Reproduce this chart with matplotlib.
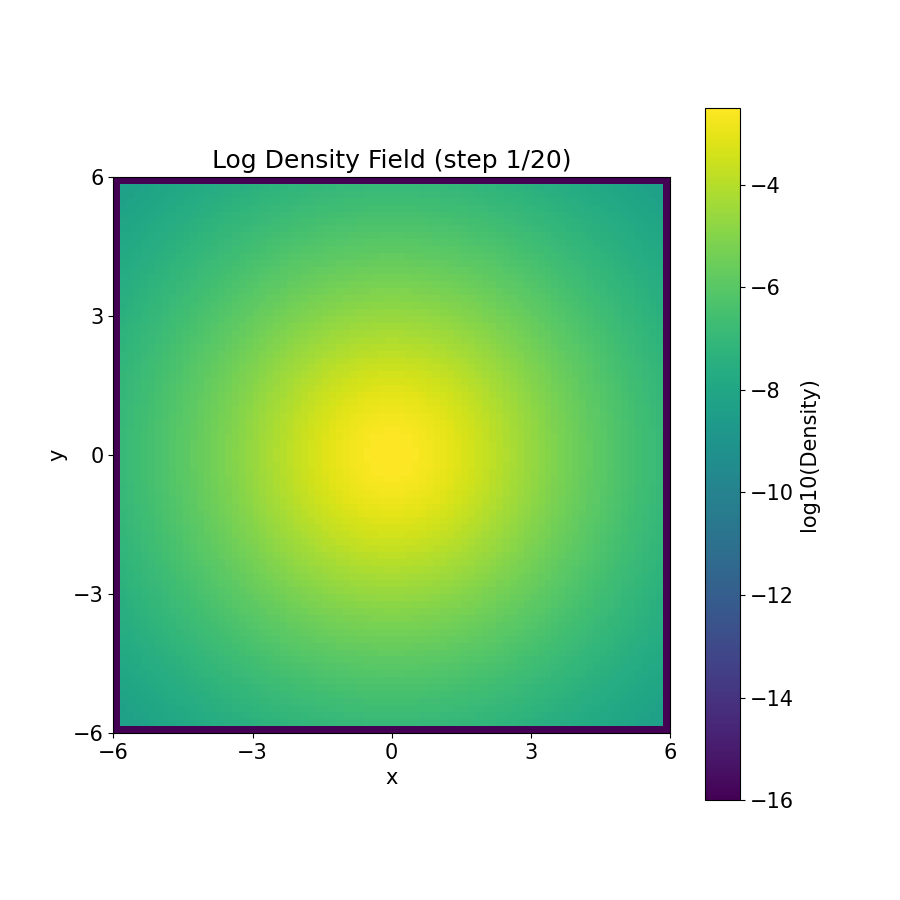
import numpy as np
import matplotlib
matplotlib.use("Agg")
import matplotlib.pyplot as plt

plt.rcParams["font.size"] = 15

# field parameters
x_range = [-6, 6]
n_cells = 80
peak_log = -2.5
core_radius = 2.5
slope = 5.5
floor_log = -16.0
ticks = [-6, -3, 0, 3, 6]

edges = np.linspace(x_range[0], x_range[1], n_cells + 1)
c = 0.5 * (edges[1:] + edges[:-1])
X, Y = np.meshgrid(c, c)
L = peak_log - slope * np.log10(1 + (X**2 + Y**2) / core_radius**2)
L[0, :] = L[-1, :] = L[:, 0] = L[:, -1] = floor_log

fig = plt.figure(figsize=(9, 9), dpi=100)
ax = fig.add_axes([0.1256, 0.1856, 0.619, 0.618])
cax = fig.add_axes([0.7833, 0.111, 0.039, 0.769])
im = ax.pcolormesh(edges, edges, L, cmap="viridis", vmin=floor_log, vmax=L.max())
ax.set_aspect("equal")
ax.set_xticks(ticks); ax.set_yticks(ticks)
ax.set_xlabel("x"); ax.set_ylabel("y")
ax.set_title("Log Density Field (step 1/20)")
cb = fig.colorbar(im, cax=cax)
cb.set_ticks([-16, -14, -12, -10, -8, -6, -4])
cb.set_label("log10(Density)")
fig.savefig("out.png")
